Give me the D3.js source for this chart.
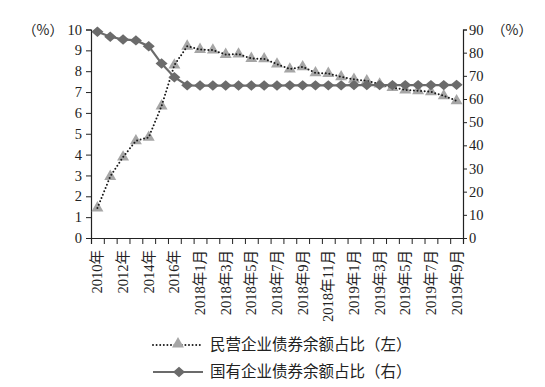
<!DOCTYPE html>
<html>
<head>
<meta charset="utf-8">
<script src="https://cdn.jsdelivr.net/npm/d3@7"></script>
<style>
  body { margin: 0; background: #fff; }
  text { font-family: "Liberation Serif", "Noto Sans CJK SC", serif; fill: #222; }
</style>
</head>
<body>
<div id="chart"></div>
<script>
// categories: 2010-2017 yearly, then monthly 2018-01 .. 2019-09
var categories = ["2010年", "2011年", "2012年", "2013年", "2014年", "2015年", "2016年", "2017年",
  "2018年1月", "2018年2月", "2018年3月", "2018年4月", "2018年5月", "2018年6月", "2018年7月",
  "2018年8月", "2018年9月", "2018年10月", "2018年11月", "2018年12月",
  "2019年1月", "2019年2月", "2019年3月", "2019年4月", "2019年5月", "2019年6月",
  "2019年7月", "2019年8月", "2019年9月"];

// 民营企业债券余额占比 (left axis, %)
var privateShare = [1.44, 2.95, 3.88, 4.66, 4.83, 6.33, 8.29, 9.20, 9.04, 9.01, 8.80, 8.82, 8.61, 8.59,
  8.34, 8.10, 8.21, 7.92, 7.89, 7.73, 7.61, 7.54, 7.38, 7.22, 7.10, 7.06, 7.01, 6.82, 6.58];

// 国有企业债券余额占比 (right axis, %)
var stateShare = [89.0, 86.9, 85.7, 85.3, 82.8, 75.3, 69.4, 65.9, 65.8, 65.8, 65.8, 65.8, 65.8, 65.8,
  65.8, 65.9, 65.9, 65.9, 65.9, 65.9, 66.0, 66.0, 66.0, 66.0, 66.0, 66.0, 66.0, 66.0, 66.1];

var leftTicks = [0, 1, 2, 3, 4, 5, 6, 7, 8, 9, 10];
var rightTicks = [0, 10, 20, 30, 40, 50, 60, 70, 80, 90];
var legendLabels = ["民营企业债券余额占比（左）", "国有企业债券余额占比（右）"];

var W = 545, H = 387;
var x0 = 91, x1 = 463, yTop = 29.5, yBot = 238;
var serif = "'Liberation Serif', 'Noto Sans CJK SC', serif";

var svg = d3.select("#chart").append("svg")
  .attr("width", W).attr("height", H);

// scales
var x = d3.scaleBand().domain(categories).range([x0, x1]).padding(0);
var xIdx = d3.scaleLinear().domain([0, categories.length]).range([x0, x1]);
var yL = d3.scaleLinear().domain([0, 10]).range([yBot, yTop]);
var yR = d3.scaleLinear().domain([0, 90]).range([yBot, yTop]);

// left axis
var gL = svg.append("g").attr("transform", "translate(" + x0 + ",0)")
  .call(d3.axisLeft(yL).tickValues(leftTicks).tickSize(5).tickPadding(4));
// right axis
var gR = svg.append("g").attr("transform", "translate(" + x1 + ",0)")
  .call(d3.axisRight(yR).tickValues(rightTicks).tickSize(4).tickPadding(2));

[gL, gR].forEach(function (g) {
  g.select(".domain").attr("stroke", "#222").attr("stroke-width", 1.2);
  g.selectAll(".tick line").attr("stroke", "#222");
  g.selectAll("text").style("font-size", "14.5px")
    .style("font-family", serif).attr("fill", "#222");
});

// bottom axis: tick marks on band boundaries
var gB = svg.append("g").attr("transform", "translate(0," + yBot + ")")
  .call(d3.axisBottom(xIdx).tickValues(d3.range(categories.length + 1))
    .tickSize(6).tickFormat(""));
gB.select(".domain").attr("stroke", "#222").attr("stroke-width", 1.2);
gB.selectAll(".tick line").attr("stroke", "#222");

// bottom labels, every other category
var gBl = svg.append("g").attr("transform", "translate(0," + yBot + ")")
  .call(d3.axisBottom(x).tickValues(categories.filter(function (d, i) { return i % 2 === 0; }))
    .tickSize(0));
gBl.select(".domain").remove();
gBl.selectAll("text")
  .style("font-size", "14.5px")
  .style("font-family", serif)
  .style("text-anchor", "end")
  .attr("fill", "#222")
  .attr("transform", "rotate(-90)")
  .attr("x", -12)
  .attr("y", 0)
  .attr("dy", "0.35em");

// unit labels
svg.selectAll("text.unit").data([43, 512]).enter().append("text")
  .attr("class", "unit")
  .attr("x", function (d) { return d; }).attr("y", 35)
  .attr("text-anchor", "middle")
  .style("font-size", "14px")
  .style("font-family", "'Noto Sans CJK SC', sans-serif")
  .text("（%）");

var cx = function (i) { return x(categories[i]) + x.bandwidth() / 2; };
var triangle = d3.symbol().type(d3.symbolTriangle).size(62);
var diamond = function (w, h) {
  return "M0," + (-h) + "L" + w + ",0L0," + h + "L" + (-w) + ",0Z";
};

// private series: triangles + dotted line
svg.append("g").selectAll("path")
  .data(privateShare).enter().append("path")
  .attr("d", triangle)
  .attr("transform", function (d, i) { return "translate(" + cx(i) + "," + yL(d) + ")"; })
  .attr("fill", "#a6a6a6");

svg.append("path")
  .datum(privateShare)
  .attr("fill", "none")
  .attr("stroke", "#1a1a1a")
  .attr("stroke-width", 2)
  .attr("stroke-linecap", "round")
  .attr("stroke-dasharray", "0 3.6")
  .attr("d", d3.line().x(function (d, i) { return cx(i); }).y(function (d) { return yL(d); }));

// state series: solid line + diamonds
svg.append("path")
  .datum(stateShare)
  .attr("fill", "none")
  .attr("stroke", "#6b6b6b")
  .attr("stroke-width", 2.2)
  .attr("d", d3.line().x(function (d, i) { return cx(i); }).y(function (d) { return yR(d); }));

svg.append("g").selectAll("path")
  .data(stateShare).enter().append("path")
  .attr("d", diamond(6, 5.2))
  .attr("transform", function (d, i) { return "translate(" + cx(i) + "," + yR(d) + ")"; })
  .attr("fill", "#6b6b6b");

// legend
var lg = svg.append("g");
var rows = [345, 372];
lg.append("line").attr("x1", 153).attr("x2", 203).attr("y1", rows[0]).attr("y2", rows[0])
  .attr("stroke", "#1a1a1a").attr("stroke-width", 2)
  .attr("stroke-linecap", "round").attr("stroke-dasharray", "0 3.6");
lg.append("path").attr("d", triangle)
  .attr("transform", "translate(178," + (rows[0] - 1) + ")").attr("fill", "#a6a6a6");
lg.append("line").attr("x1", 153).attr("x2", 203).attr("y1", rows[1]).attr("y2", rows[1])
  .attr("stroke", "#6b6b6b").attr("stroke-width", 2.2);
lg.append("path").attr("d", diamond(6, 5.2))
  .attr("transform", "translate(179," + rows[1] + ")").attr("fill", "#6b6b6b");

lg.selectAll("text.lbl").data(legendLabels).enter().append("text")
  .attr("class", "lbl")
  .attr("x", 210)
  .attr("y", function (d, i) { return rows[i]; })
  .attr("dy", "0.35em")
  .style("font-size", "15.5px")
  .style("font-family", "'Noto Sans CJK SC', sans-serif")
  .text(function (d) { return d; });
</script>
</body>
</html>
